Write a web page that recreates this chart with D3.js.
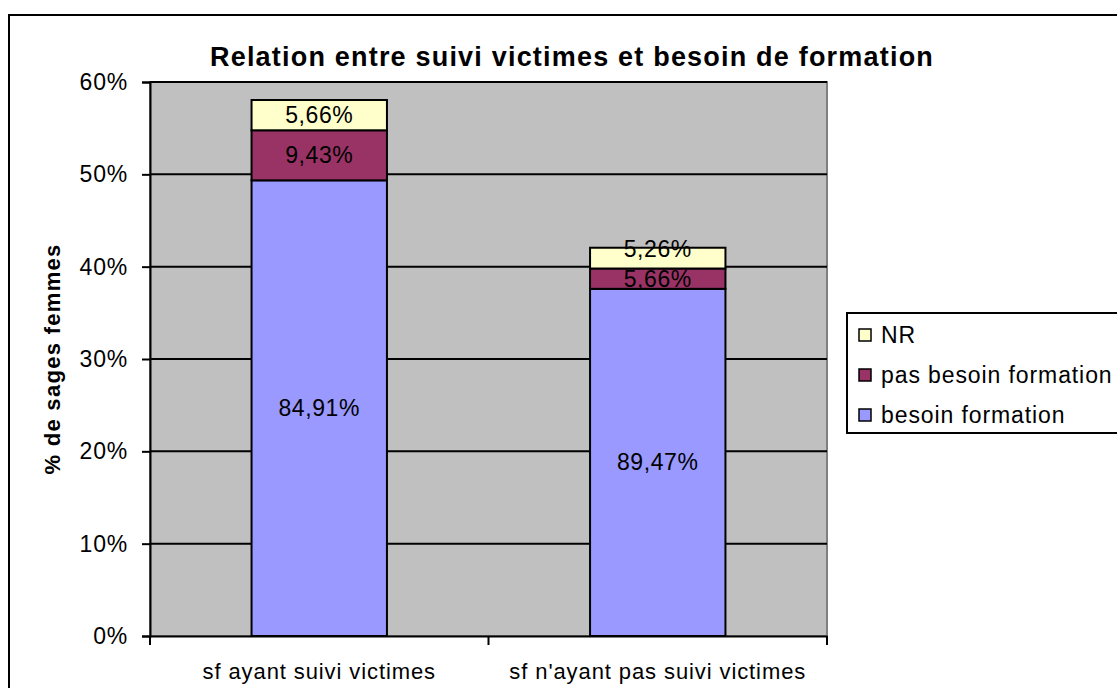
<!DOCTYPE html>
<html>
<head>
<meta charset="utf-8">
<script src="https://cdn.jsdelivr.net/npm/d3@7"></script>
<style>
    body { margin: 0; background: #fff; }
    svg text { font-family: "Liberation Sans", Arial, sans-serif; fill: #000; }
</style>
</head>
<body>
<div id="chart"></div>
<script>
// categories and series (heights in % of all sages femmes, labels = share inside the group)
const categories = ["sf ayant suivi victimes", "sf n'ayant pas suivi victimes"];
const seriesNames = ["besoin formation", "pas besoin formation", "NR"];
const besoinValues = [49.35, 37.6];
const pasBesoinValues = [5.42, 2.2];
const nrValues = [3.28, 2.25];
const besoinLabels = ["84,91%", "89,47%"];
const pasBesoinLabels = ["9,43%", "5,66%"];
const nrLabels = ["5,66%", "5,26%"];
const yTicks = [0, 10, 20, 30, 40, 50, 60];
const colors = ["#9999FF", "#993366", "#FFFFCC"];

const W = 1117, H = 688;
let margin = {top: 82, left: 150},
    width = 677,
    height = 554;

let svg = d3.select("#chart").append("svg")
    .attr("width", W)
    .attr("height", H);

// outer chart frame (runs off the right and bottom edges)
svg.append("rect")
    .attr("x", 9).attr("y", 15)
    .attr("width", W + 20).attr("height", H + 20)
    .attr("fill", "none")
    .attr("stroke", "#000")
    .attr("stroke-width", 2);

// title
svg.append("text")
    .attr("x", 572)
    .attr("y", 66)
    .attr("text-anchor", "middle")
    .style("font-size", "27px")
    .style("font-weight", "bold")
    .style("letter-spacing", "1.2px")
    .text("Relation entre suivi victimes et besoin de formation");

let g = svg.append("g")
    .attr("transform", "translate(" + margin.left + "," + margin.top + ")");

let x = d3.scaleBand()
    .domain(categories)
    .range([0, width])
    .padding(0);
let y = d3.scaleLinear()
    .domain([0, 60])
    .range([height, 0]);

// plot background
g.append("rect")
    .attr("width", width)
    .attr("height", height)
    .attr("fill", "#C0C0C0")
    .attr("stroke", "#808080")
    .attr("stroke-width", 2);

// gridlines
g.selectAll(".grid")
    .data(yTicks.filter(d => d > 0))
    .enter().append("line")
    .attr("x1", 0).attr("x2", width)
    .attr("y1", d => y(d)).attr("y2", d => y(d))
    .attr("stroke", "#000")
    .attr("stroke-width", 2);

// stack the data
let rows = categories.map((c, i) => ({
    cat: c,
    "besoin formation": besoinValues[i],
    "pas besoin formation": pasBesoinValues[i],
    "NR": nrValues[i]
}));
let labels = [besoinLabels, pasBesoinLabels, nrLabels];
let stacked = d3.stack().keys(seriesNames)(rows);

const barWidth = x.bandwidth() * 0.4;

stacked.forEach((layer, si) => {
    let lg = g.append("g");
    lg.selectAll("rect")
        .data(layer)
        .enter().append("rect")
        .attr("x", d => x(d.data.cat) + (x.bandwidth() - barWidth) / 2)
        .attr("width", barWidth)
        .attr("y", d => y(d[1]))
        .attr("height", d => y(d[0]) - y(d[1]))
        .attr("fill", colors[si])
        .attr("stroke", "#000")
        .attr("stroke-width", 2);
});

// data labels on top of everything
stacked.forEach((layer, si) => {
    let top = si === stacked.length - 1;
    g.append("g").selectAll("text")
        .data(layer)
        .enter().append("text")
        .attr("x", d => x(d.data.cat) + x.bandwidth() / 2)
        .attr("y", d => {
            let mid = (y(d[0]) + y(d[1])) / 2;
            // thin top segment: label pushed up like Excel does
            if (top && y(d[0]) - y(d[1]) < 25) mid -= 9;
            return mid;
        })
        .attr("dy", "0.35em")
        .attr("text-anchor", "middle")
        .style("font-size", "23px")
        .style("letter-spacing", "0.6px")
        .text((d, i) => labels[si][i]);
});

// y axis
let yAxis = g.append("g")
    .call(d3.axisLeft(y)
        .tickValues(yTicks)
        .tickSize(8)
        .tickPadding(14)
        .tickFormat(d => d + "%"));
yAxis.selectAll("line").attr("stroke", "#000").attr("stroke-width", 2);
yAxis.select(".domain").attr("stroke", "#000").attr("stroke-width", 2);
yAxis.selectAll("text").style("font-size", "23px").style("letter-spacing", "0.8px").attr("font-family", null);

// x axis: labels centred, ticks at the category boundaries
let xAxis = g.append("g")
    .attr("transform", "translate(0," + height + ")")
    .call(d3.axisBottom(x).tickSize(0).tickPadding(27));
xAxis.select(".domain").attr("stroke", "#000").attr("stroke-width", 2);
xAxis.selectAll("text").style("font-size", "22px").style("letter-spacing", "0.9px").attr("font-family", null);

let bounds = categories.map(c => x(c)).concat([width]);
xAxis.selectAll(".bound")
    .data(bounds)
    .enter().append("line")
    .attr("x1", d => d).attr("x2", d => d)
    .attr("y1", 0).attr("y2", 9)
    .attr("stroke", "#000")
    .attr("stroke-width", 2);

// y axis title
svg.append("text")
    .attr("transform", "translate(60," + (margin.top + height / 2) + ") rotate(-90)")
    .attr("text-anchor", "middle")
    .style("font-size", "22px")
    .style("font-weight", "bold")
    .style("letter-spacing", "1.3px")
    .text("% de sages femmes");

// legend
let legend = svg.append("g").attr("transform", "translate(847,313)");
legend.append("rect")
    .attr("width", 300)
    .attr("height", 120)
    .attr("fill", "#fff")
    .attr("stroke", "#000")
    .attr("stroke-width", 2);

let legendItems = seriesNames.slice().reverse();
let legendColors = colors.slice().reverse();
legendItems.forEach((name, i) => {
    let row = legend.append("g").attr("transform", "translate(0," + (22 + i * 40) + ")");
    row.append("rect")
        .attr("x", 12).attr("y", -6)
        .attr("width", 12).attr("height", 12)
        .attr("fill", legendColors[i])
        .attr("stroke", "#000")
        .attr("stroke-width", 1.5);
    row.append("text")
        .attr("x", 34)
        .attr("dy", "0.35em")
        .style("font-size", "23px")
        .style("letter-spacing", "0.9px")
        .text(name);
});
</script>
</body>
</html>
